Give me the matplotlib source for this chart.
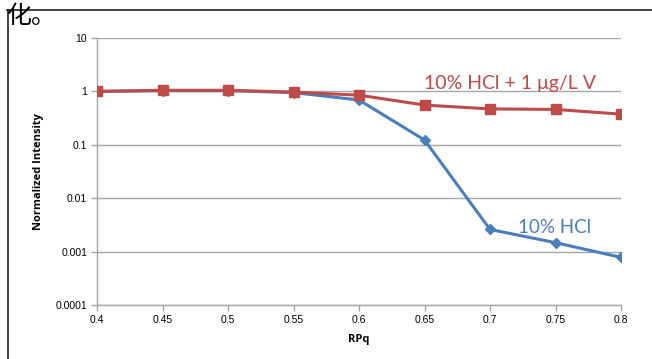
import matplotlib
matplotlib.use("Agg")
import matplotlib.pyplot as plt
from matplotlib.lines import Line2D

x_vals = [0.4, 0.45, 0.5, 0.55, 0.6, 0.65, 0.7, 0.75, 0.8]
hcl_v = [1.0, 1.05, 1.05, 0.97, 0.85, 0.555, 0.47, 0.46, 0.375]
hcl = [1.0, 1.03, 1.03, 0.95, 0.69, 0.123, 0.0026, 0.00147, 0.00078]
y_ticks = [0.0001, 0.001, 0.01, 0.1, 1, 10]
y_tick_labels = ["0.0001", "0.001", "0.01", "0.1", "1", "10"]
x_ticks = [0.4, 0.45, 0.5, 0.55, 0.6, 0.65, 0.7, 0.75, 0.8]
x_tick_labels = ["0.4", "0.45", "0.5", "0.55", "0.6", "0.65", "0.7", "0.75", "0.8"]

W, H = 652, 359
fig = plt.figure(figsize=(W / 100, H / 100), dpi=100)
ax = fig.add_axes([97 / W, 1 - 305 / H, (621 - 97) / W, (305 - 38) / H])

red = "#be4b48"
blue = "#4a7ebb"
grid_c = "#a6a6a6"

ax.plot(x_vals, hcl, color=blue, lw=2.2, marker="D", ms=5.5, zorder=3)
ax.plot(x_vals, hcl_v, color=red, lw=2.2, marker="s", ms=7.5, zorder=4)

ax.set_yscale("log")
ax.set_ylim(0.0001, 10)
ax.set_xlim(0.4, 0.8)
ax.set_yticks(y_ticks)
ax.set_yticklabels(y_tick_labels)
ax.minorticks_off()
ax.set_xticks(x_ticks)
ax.set_xticklabels(x_tick_labels)
ax.yaxis.grid(True, color=grid_c, lw=1)
ax.set_axisbelow(True)
for s in ["top", "right"]:
    ax.spines[s].set_visible(False)
for s in ["left", "bottom"]:
    ax.spines[s].set_color(grid_c)
    ax.spines[s].set_linewidth(1)
ax.tick_params(axis="both", colors=grid_c, length=4, width=1, labelsize=7.5,
               labelcolor="black", pad=3)
for lab in ax.get_xticklabels() + ax.get_yticklabels():
    lab.set_fontfamily("Liberation Sans")

ax.set_xlabel("RPq", fontfamily="Open Sans", fontweight="bold", fontsize=8, labelpad=7)
ax.set_ylabel("Normalized Intensity", fontfamily="Open Sans", fontweight="bold",
              fontsize=8, labelpad=8)

ax.text(0.7153, 1.38, "10% HCl + 1 μg/L V", color=red, fontsize=14,
        fontfamily="Lato", ha="center", va="center")
ax.text(0.7496, 0.0028, "10% HCl", color=blue, fontsize=13.5,
        fontfamily="Lato", ha="center", va="center")

# page decorations (document frame)
fig.add_artist(Line2D([7 / W, 1], [1 - 10 / H, 1 - 10 / H], color="#222222", lw=1.2))
fig.add_artist(Line2D([8 / W, 8 / W], [0, 1 - 10 / H], color="#222222", lw=1.2))
fig.text(7 / W, 1 - 23 / H, "化。", fontfamily=["Noto Sans CJK SC", "DejaVu Sans"],
         fontsize=18, va="baseline", ha="left")

fig.savefig("out.png", dpi=100)
